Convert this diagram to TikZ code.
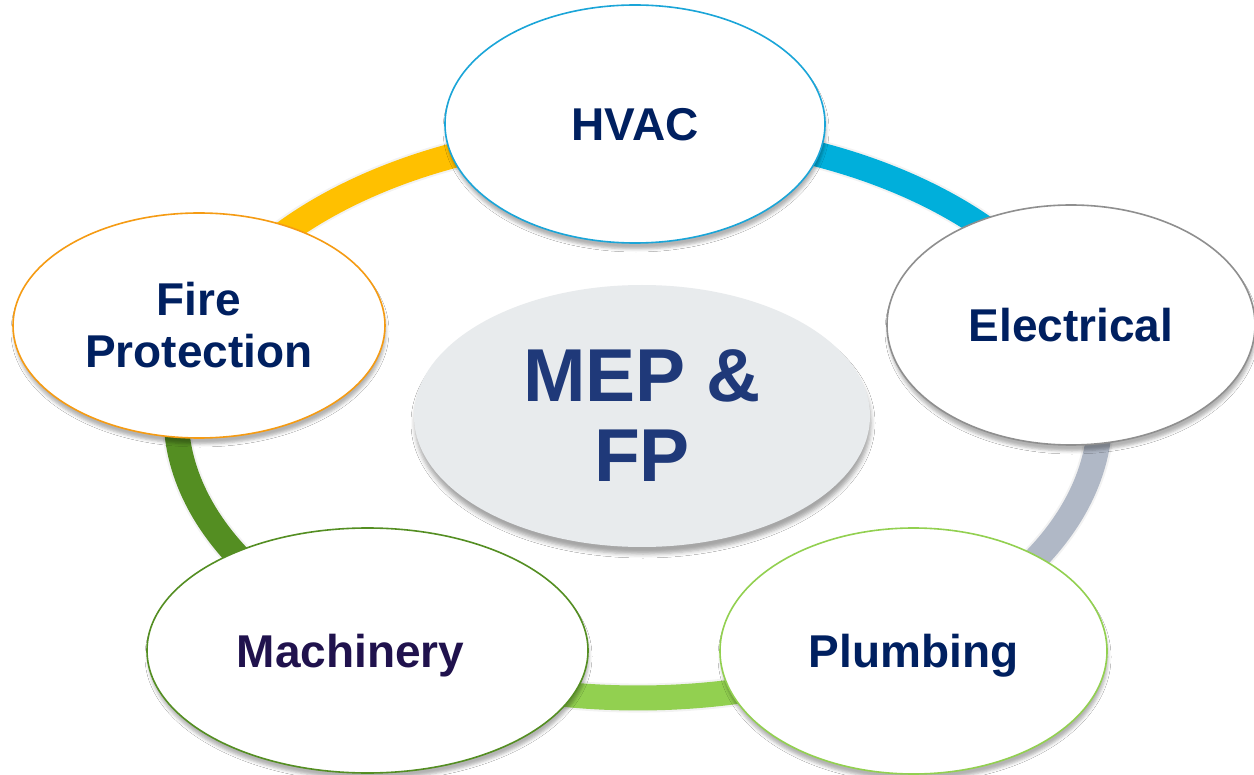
\documentclass[tikz,border=0pt]{standalone}
\usepackage{fontspec}
\setmainfont{Liberation Sans}
\usetikzlibrary{shapes.geometric,shadows.blur}
\definecolor{navy}{HTML}{002060}
\definecolor{mepblue}{HTML}{1F3979}
\definecolor{machtext}{HTML}{20124D}
\definecolor{centfill}{HTML}{E8EBED}
\definecolor{hvacb}{HTML}{1AA5D8}
\definecolor{bandblue}{HTML}{00AFDB}
\definecolor{elecb}{HTML}{8F8F8F}
\definecolor{bandgray}{HTML}{B0B8C6}
\definecolor{fireb}{HTML}{F59B13}
\definecolor{bandyellow}{HTML}{FFC000}
\definecolor{lgreen}{HTML}{92D050}
\definecolor{dgreen}{HTML}{548E22}
\begin{document}
\begin{tikzpicture}[x=1pt,y=-1pt,
  bub/.style={ellipse, draw, line width=1.6pt, fill=white, inner sep=0pt,
    font=\fontsize{46}{52}\selectfont\bfseries, text=navy, align=center,
    blur shadow={shadow xshift=1pt, shadow yshift=-6pt, shadow blur radius=3pt, shadow opacity=30}},
  oneline/.style={text height=33pt, text depth=0pt},
  band/.style={line width=25pt, line cap=butt},
  bandshadowA/.style={line width=29pt, line cap=butt, black, opacity=0.05},
  bandshadowB/.style={line width=24pt, line cap=butt, black, opacity=0.10},
  ring/.style={x radius=462pt, y radius=283pt}]
\useasboundingbox (0,0) rectangle (1254,775);
\fill[white] (0,0) rectangle (1254,775);
% ring geometry
\coordinate (ringc) at (638,415);
\coordinate (aF) at ([shift={(161.7:462pt and 283pt)}]ringc);
\coordinate (aH) at ([shift={(90:462pt and 283pt)}]ringc);
\coordinate (aE) at ([shift={(18.5:462pt and 283pt)}]ringc);
\coordinate (aP) at ([shift={(-54.5:462pt and 283pt)}]ringc);
\coordinate (aM) at ([shift={(-125.3:462pt and 283pt)}]ringc);
% ring shadow
\begin{scope}[xshift=2pt, yshift=-5pt]
  \draw[bandshadowA] (aF) arc[ring, start angle=161.7, end angle=-198.3];
  \draw[bandshadowB] (aF) arc[ring, start angle=161.7, end angle=-198.3];
\end{scope}
% ring segments
\draw[band, bandyellow] (aF) arc[ring, start angle=161.7, end angle=90];
\draw[band, bandblue] (aH) arc[ring, start angle=90, end angle=18.5];
\draw[band, bandgray] (aE) arc[ring, start angle=18.5, end angle=-54.5];
\draw[band, lgreen] (aP) arc[ring, start angle=-54.5, end angle=-125.3];
\draw[band, dgreen] (aM) arc[ring, start angle=-125.3, end angle=-198.3];
% centre
\node[ellipse, fill=centfill, inner sep=0pt, minimum width=456pt, minimum height=262pt,
  font=\fontsize{75}{80}\selectfont\bfseries, text=mepblue, align=center,
  blur shadow={shadow xshift=1pt, shadow yshift=-7pt, shadow blur radius=4pt, shadow opacity=35}]
  (mep) at (642,416) {MEP \&\\FP};
% outer bubbles
\node[bub, oneline, draw=hvacb, minimum width=380pt, minimum height=238pt] (hvac) at (635,124) {HVAC};
\node[bub, oneline, draw=elecb, minimum width=368pt, minimum height=240pt] (elec) at (1071,325) {Electrical};
\node[bub, draw=fireb, minimum width=372pt, minimum height=225pt] (fire) at (199,325.5) {Fire\\Protection};
\node[bub, oneline, draw=lgreen, minimum width=387pt, minimum height=246pt] (plumb) at (913.5,651) {Plumbing};
\node[bub, oneline, draw=dgreen, text=machtext, minimum width=441pt, minimum height=245pt] (mach) at (367.5,650.5) {Machinery\hspace*{34pt}};
\end{tikzpicture}
\end{document}
